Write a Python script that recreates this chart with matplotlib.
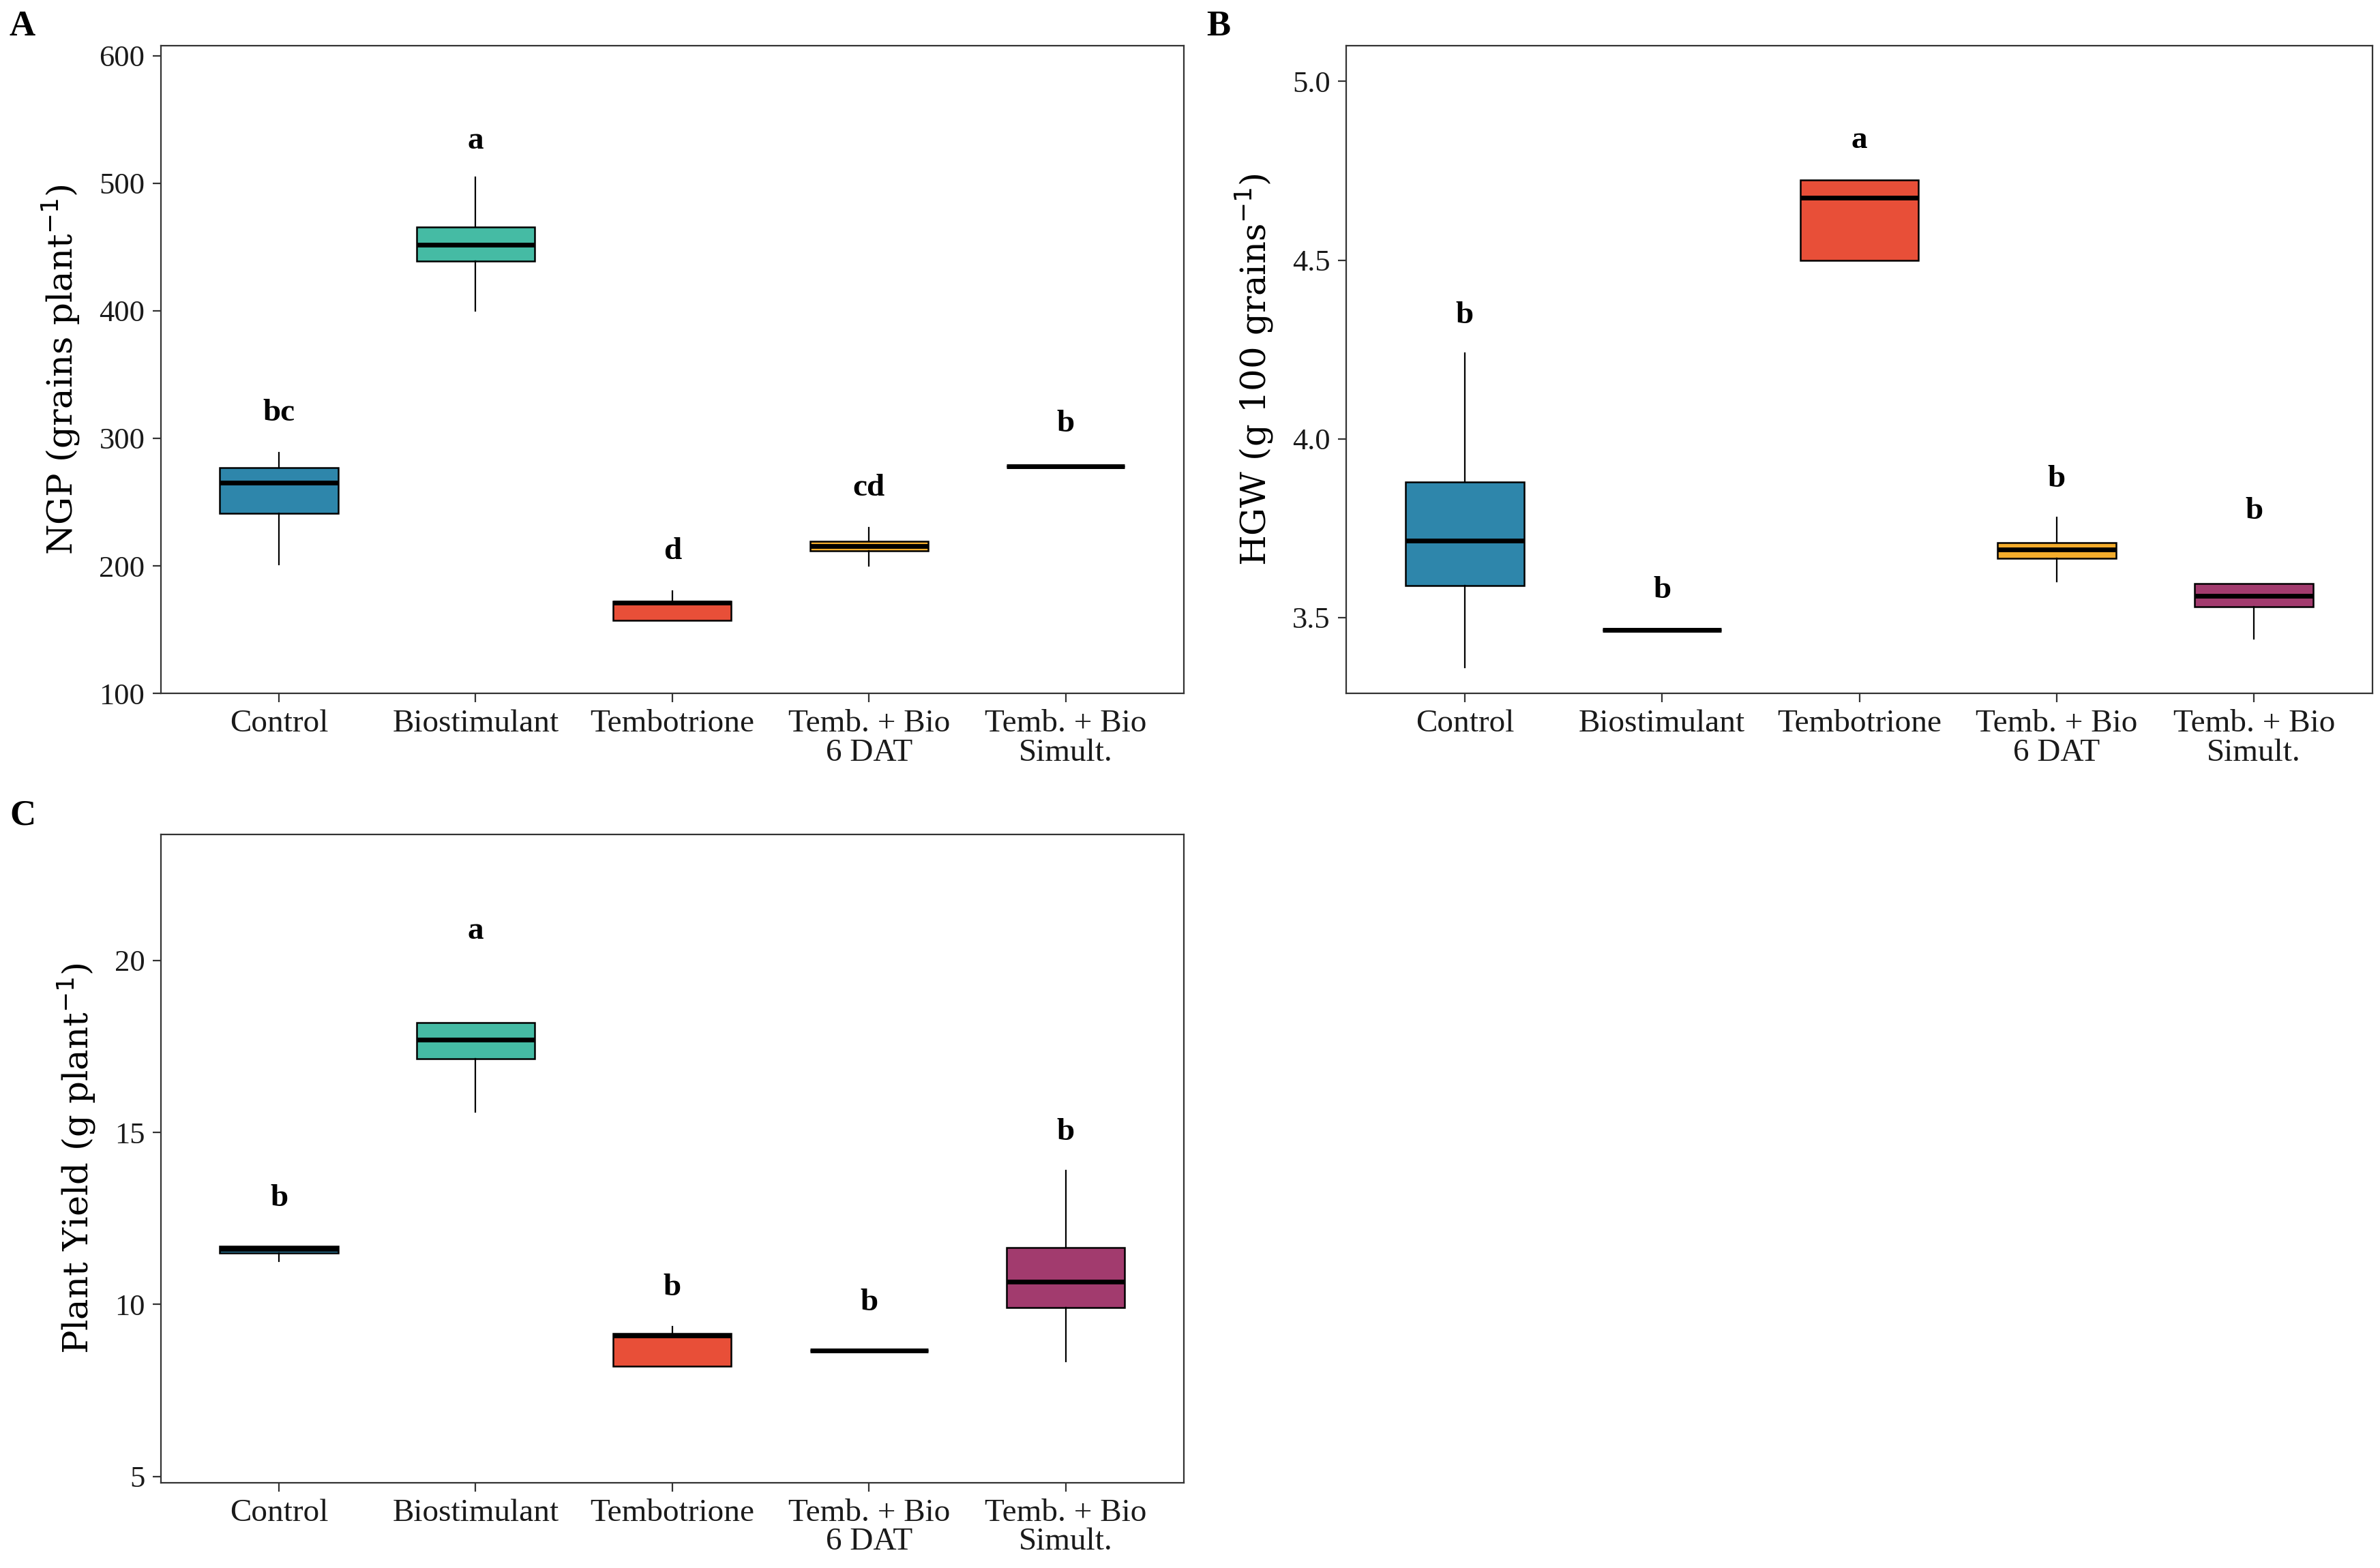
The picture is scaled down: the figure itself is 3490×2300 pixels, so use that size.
import matplotlib
matplotlib.use("Agg")
import matplotlib.pyplot as plt

# ---------------- data ----------------
categories = ["Control", "Biostimulant", "Tembotrione", "Temb. + Bio\n6 DAT", "Temb. + Bio\nSimult."]
colors = ["#2E86AB", "#45BBA4", "#E84F38", "#F3AC2C", "#A23B6E"]

# Panel A: NGP (grains plant-1)
ngp_whislo = [201, 400, 157, 200, 278]
ngp_q1     = [241, 439, 157, 212, 278]
ngp_med    = [265, 452, 171, 215.5, 278]
ngp_q3     = [277, 466, 172, 219, 278]
ngp_whishi = [289, 505, 180, 230, 278]
ngp_letters = ["bc", "a", "d", "cd", "b"]
ngp_letter_y = [320, 533, 211, 261, 311]
ngp_ticks = [100, 200, 300, 400, 500, 600]

# Panel B: HGW (g 100 grains-1)
hgw_whislo = [3.36, 3.462, 4.50, 3.60, 3.44]
hgw_q1     = [3.59, 3.465, 4.50, 3.665, 3.53]
hgw_med    = [3.715, 3.465, 4.675, 3.69, 3.56]
hgw_q3     = [3.88, 3.465, 4.725, 3.71, 3.595]
hgw_whishi = [4.24, 3.468, 4.725, 3.78, 3.595]
hgw_letters = ["b", "b", "a", "b", "b"]
hgw_letter_y = [4.345, 3.576, 4.834, 3.887, 3.797]
hgw_ticks = [3.5, 4.0, 4.5, 5.0]

# Panel C: Plant Yield (g plant-1)
py_whislo = [11.25, 15.6, 8.2, 8.65, 8.35]
py_q1     = [11.5, 17.15, 8.2, 8.65, 9.9]
py_med    = [11.62, 17.7, 9.1, 8.65, 10.65]
py_q3     = [11.7, 18.2, 9.15, 8.65, 11.65]
py_whishi = [11.7, 18.2, 9.35, 8.65, 13.9]
py_letters = ["b", "a", "b", "b", "b"]
py_letter_y = [13.08, 20.84, 10.48, 10.04, 15.0]
py_ticks = [5, 10, 15, 20]

# ---------------- style ----------------
SERIF = ["Liberation Serif", "DejaVu Serif"]
LABEL_FONT = ["DejaVu Serif"]
SPINE = "#333333"

fig = plt.figure(figsize=(17.45, 11.5), dpi=200)


def panel(rect, whislo, q1, med, q3, whishi, letters, letter_y, ticks,
          ylim, ylabel, ticklabels, tag, tagpos):
    ax = fig.add_axes(rect)
    stats = []
    for i in range(len(categories)):
        stats.append(dict(whislo=whislo[i], q1=q1[i], med=med[i], q3=q3[i],
                          whishi=whishi[i], fliers=[]))
    pos = list(range(1, len(categories) + 1))
    bp = ax.bxp(stats, positions=pos, widths=0.6, patch_artist=True,
                showfliers=False, showcaps=False,
                boxprops=dict(linewidth=0.9, edgecolor="black"),
                whiskerprops=dict(linewidth=0.8, color="black"),
                medianprops=dict(linewidth=2.5, color="black",
                                 solid_capstyle="butt"))
    for patch, c in zip(bp["boxes"], colors):
        patch.set_facecolor(c)
    for x, t, y in zip(pos, letters, letter_y):
        ax.text(x, y, t, ha="center", va="center", fontsize=17,
                fontweight="bold", family=SERIF)
    ax.set_xlim(0.4, 5.6)
    ax.set_ylim(*ylim)
    ax.set_yticks(ticks)
    ax.set_yticklabels(ticklabels, family=SERIF, fontsize=16)
    ax.set_xticks(pos)
    ax.set_xticklabels(categories, family=SERIF, fontsize=17,
                       linespacing=1.0)
    ax.set_ylabel(ylabel, family=LABEL_FONT, fontsize=18.5, labelpad=9)
    for s in ax.spines.values():
        s.set_color(SPINE)
        s.set_linewidth(0.8)
    ax.tick_params(axis="both", length=4.5, width=0.8, color=SPINE,
                   labelcolor="#1a1a1a", pad=4)
    fig.text(tagpos[0], tagpos[1], tag, fontsize=19, fontweight="bold",
             family=SERIF, ha="left", va="center")
    return ax


panel([0.0676, 0.5578, 0.4298, 0.4131], ngp_whislo, ngp_q1, ngp_med, ngp_q3,
      ngp_whishi, ngp_letters, ngp_letter_y, ngp_ticks, (100, 608),
      r"NGP (grains plant$^{-1}$)", [str(t) for t in ngp_ticks], "A",
      (0.004, 0.983))

panel([0.5657, 0.5578, 0.4311, 0.4131], hgw_whislo, hgw_q1, hgw_med, hgw_q3,
      hgw_whishi, hgw_letters, hgw_letter_y, hgw_ticks, (3.288, 5.10),
      r"HGW (g 100 grains$^{-1}$)", [f"{t:.1f}" for t in hgw_ticks], "B",
      (0.507, 0.983))

panel([0.0676, 0.0545, 0.4298, 0.4133], py_whislo, py_q1, py_med, py_q3,
      py_whishi, py_letters, py_letter_y, py_ticks, (4.82, 23.66),
      r"Plant Yield (g plant$^{-1}$)", [str(t) for t in py_ticks], "C",
      (0.004, 0.4796))

fig.savefig("out.png", dpi=200, facecolor="white")
